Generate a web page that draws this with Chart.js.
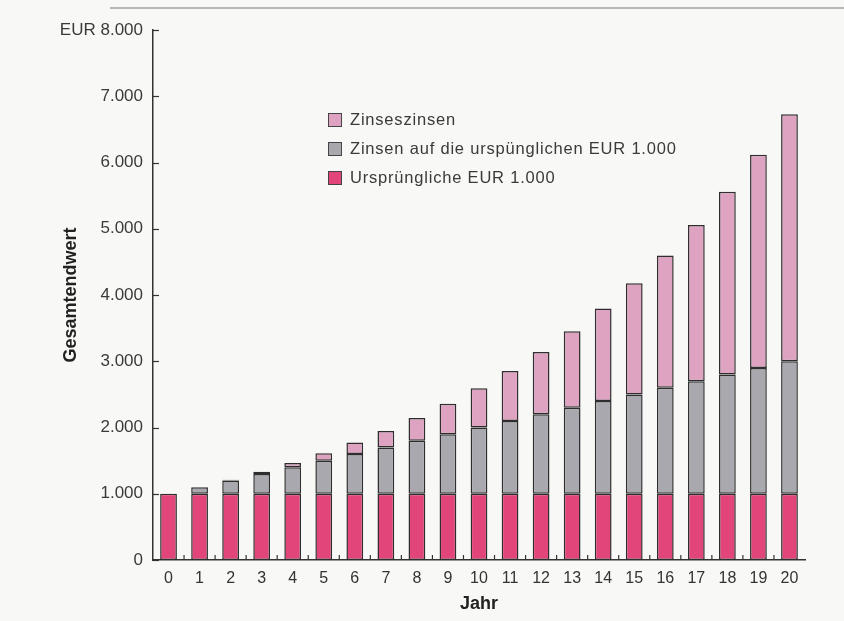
<!DOCTYPE html>
<html>
<head>
<meta charset="utf-8">
<script src="https://cdn.jsdelivr.net/npm/chart.js@4"></script>
<style>
  body { margin: 0; background: #f8f8f6; }
  #wrap { position: relative; width: 844px; height: 621px; }
  #topline { position: absolute; left: 110px; top: 7px; width: 734px; height: 2px; background: #b8b8b8; }
  #legend { position: absolute; left: 328px; top: 110px; font-family: "Liberation Sans", Arial, sans-serif; font-size: 16.5px; letter-spacing: 0.8px; color: #3a3a3a; }
  #legend div { height: 29px; display: flex; align-items: flex-start; }
  #legend span.box { width: 14px; height: 14px; border: 1px solid #444; margin-right: 8px; margin-top: 3px; box-sizing: border-box; }
</style>
</head>
<body>
<div id="wrap">
  <canvas id="chart" width="844" height="621"></canvas>
  <div id="topline"></div>
  <div id="legend"></div>
</div>
<script>
// Years on the x axis
const years = ['0','1','2','3','4','5','6','7','8','9','10','11','12','13','14','15','16','17','18','19','20'];

// Series values in EUR
const original = [1000,1000,1000,1000,1000,1000,1000,1000,1000,1000,1000,1000,1000,1000,1000,1000,1000,1000,1000,1000,1000];
const simpleInterest = [0,100,200,300,400,500,600,700,800,900,1000,1100,1200,1300,1400,1500,1600,1700,1800,1900,2000];
const compoundInterest = [0,0,10,31,64,111,172,249,344,458,594,753,938,1152,1398,1677,1995,2355,2760,3216,3728];

// Y ticks
const yTicks = [0,1000,2000,3000,4000,5000,6000,7000,8000];

const labels = ['Zinseszinsen', 'Zinsen auf die urspünglichen EUR 1.000', 'Ursprüngliche EUR 1.000'];
const colors = { original: '#e2457a', simple: '#a9a8ae', compound: '#dfa3c2' };
const fontFamily = 'Liberation Sans, Arial, sans-serif';

function fmt(v) {
    return v.toString().replace(/\B(?=(\d{3})+(?!\d))/g, '.');
}

// Small tick marks pointing into the chart area
const innerTicks = {
    id: 'innerTicks',
    afterDraw(chart) {
        const ctx = chart.ctx;
        const x = chart.scales.x, y = chart.scales.y;
        ctx.save();
        ctx.strokeStyle = '#333';
        ctx.lineWidth = 1.2;
        yTicks.forEach(v => {
            const py = Math.round(y.getPixelForValue(v)) + 0.5;
            ctx.beginPath();
            ctx.moveTo(x.left, py);
            ctx.lineTo(x.left + 6, py);
            ctx.stroke();
        });
        for (let i = 1; i < years.length; i++) {
            const px = (x.getPixelForValue(i - 1) + x.getPixelForValue(i)) / 2;
            ctx.beginPath();
            ctx.moveTo(px, y.bottom);
            ctx.lineTo(px, y.bottom - 5);
            ctx.stroke();
        }
        ctx.restore();
    }
};

const ctx = document.getElementById('chart').getContext('2d');
new Chart(ctx, {
    type: 'bar',
    data: {
        labels: years,
        datasets: [
            { label: labels[2], data: original, backgroundColor: colors.original },
            { label: labels[1], data: simpleInterest, backgroundColor: colors.simple },
            { label: labels[0], data: compoundInterest, backgroundColor: colors.compound }
        ].map(d => Object.assign(d, {
            borderColor: '#2e2e2e',
            borderWidth: 1.5,
            borderSkipped: false,
            barPercentage: 0.54,
            categoryPercentage: 1
        }))
    },
    options: {
        responsive: false,
        animation: false,
        layout: { padding: { left: 52, top: 30, right: 39, bottom: 4 } },
        plugins: { legend: { display: false }, tooltip: { enabled: false } },
        scales: {
            x: {
                stacked: true,
                offset: true,
                grid: { display: false, drawTicks: false },
                border: { display: true, color: '#333', width: 1.5 },
                ticks: { padding: 9, color: '#333', font: { family: fontFamily, size: 16 } },
                title: { display: true, text: 'Jahr', color: '#222', padding: { top: 0, bottom: 2 },
                         font: { family: fontFamily, size: 18, weight: 'bold' } },
                afterFit(scale) { scale.height = 57; }
            },
            y: {
                stacked: true,
                min: 0,
                max: 8000,
                grid: { display: false, drawTicks: false },
                border: { display: true, color: '#333', width: 1.5 },
                afterBuildTicks(scale) { scale.ticks = yTicks.map(v => ({ value: v })); },
                ticks: {
                    padding: 10,
                    color: '#3a3a3a',
                    font: { family: fontFamily, size: 17 },
                    callback: v => (v === 8000 ? 'EUR ' : '') + fmt(v)
                },
                title: { display: true, text: 'Gesamtendwert', color: '#222', padding: { top: 8, bottom: 0 },
                         font: { family: fontFamily, size: 18, weight: 'bold' } },
                afterFit(scale) { scale.width = 101; }
            }
        }
    },
    plugins: [innerTicks]
});

// Legend
const legendDiv = document.getElementById('legend');
[[labels[0], colors.compound], [labels[1], colors.simple], [labels[2], colors.original]].forEach(([t, c]) => {
    const row = document.createElement('div');
    row.innerHTML = `<span class="box" style="background:${c}"></span><span>${t}</span>`;
    legendDiv.appendChild(row);
});
</script>
</body>
</html>
